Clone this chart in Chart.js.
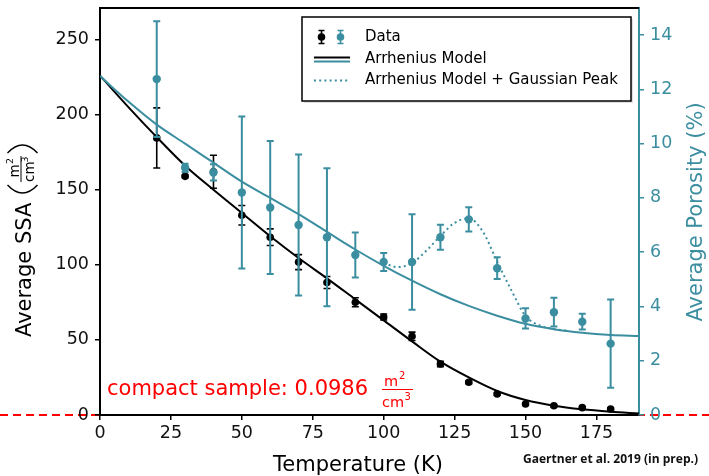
<!DOCTYPE html>
<html>
<head>
<meta charset="utf-8">
<script src="https://cdn.jsdelivr.net/npm/chart.js@4.4.1/dist/chart.umd.min.js"></script>
<style>
  body { margin: 0; background: #fff; }
  #wrap { width: 709px; height: 476px; position: relative; }
</style>
</head>
<body>
<div id="wrap"><canvas id="myChart"></canvas></div>
<script>
// measured samples
var temps = [20, 30, 40, 50, 60, 70, 80, 90, 100, 110, 120, 130, 140, 150, 160, 170, 180];
var ssa = [184.5, 158.9, 162, 133, 118.4, 101.8, 88.2, 75.1, 65.3, 52.4, 34, 21.8, 14, 7.3, 6.2, 4.9, 4.0];
var ssaErr = [20, 0.8, 11, 6.5, 5.5, 5, 4, 3, 2, 2.8, 1.8, 1, 0.8, 0.8, 0.8, 0.8, 0.8];
var porosity = [12.38, 9.11, 8.94, 8.2, 7.65, 7.0, 6.55, 5.9, 5.64, 5.64, 6.55, 7.21, 5.41, 3.56, 3.79, 3.44, 2.63];
var porErr = [2.13, 0.15, 0.3, 2.8, 2.45, 2.6, 2.54, 0.83, 0.33, 1.76, 0.46, 0.45, 0.4, 0.37, 0.53, 0.29, 1.63];

// model curves
var modelT = [0, 10, 20, 30, 40, 50, 60, 70, 80, 90, 100, 110, 120, 130, 140, 150, 160, 170, 180, 190];
var ssaModel = [226, 205, 185, 166, 150, 134.5, 119, 104.5, 91, 77, 63, 49, 35.5, 25, 16, 10, 6.2, 3.8, 2.2, 1];
var porModel = [12.49, 11.55, 10.7, 10.0, 9.3, 8.6, 8.0, 7.4, 6.75, 6.1, 5.5, 4.95, 4.45, 4.02, 3.66, 3.36, 3.16, 3.03, 2.95, 2.91];
var peakT = [100, 105, 110, 115, 120, 125, 130, 135, 140, 145, 150, 155, 160, 165];
var peakModel = [5.6, 5.45, 5.6, 6.05, 6.6, 7.08, 7.25, 6.75, 5.65, 4.6, 3.65, 3.3, 3.17, 3.1];

var xTickStep = 25, ssaTickStep = 50, porTickStep = 2;
var xMax = 190, ssaMax = 271, porMax = 15;

var TEAL = '#3b8ea0';
var FONT = "'DejaVu Sans', sans-serif";

function pts(xs, ys) {
  return xs.map(function (x, i) { return { x: x, y: ys[i] }; });
}

function drawErr(chart, axisId, xs, ys, errs, color, lw, cap) {
  var ctx = chart.ctx, sx = chart.scales.x, sy = chart.scales[axisId];
  ctx.save();
  ctx.strokeStyle = color;
  ctx.lineWidth = lw;
  for (var i = 0; i < xs.length; i++) {
    var px = sx.getPixelForValue(xs[i]);
    var top = sy.getPixelForValue(ys[i] + errs[i]);
    var bot = sy.getPixelForValue(ys[i] - errs[i]);
    ctx.beginPath();
    ctx.moveTo(px, top); ctx.lineTo(px, bot);
    ctx.moveTo(px - cap, top); ctx.lineTo(px + cap, top);
    ctx.moveTo(px - cap, bot); ctx.lineTo(px + cap, bot);
    ctx.stroke();
  }
  ctx.restore();
}

function fitY(w) {
  return function (s) { s.width = w; s.paddingTop = 0; s.paddingBottom = 0; };
}

var extras = {
  id: 'extras',
  beforeDraw: function (chart) {
    var ctx = chart.ctx;
    ctx.save();
    ctx.fillStyle = '#fff';
    ctx.fillRect(0, 0, chart.width, chart.height);
    // red dashed zero line across the whole figure
    var y0 = chart.scales.y.getPixelForValue(0);
    ctx.strokeStyle = 'red';
    ctx.lineWidth = 2;
    ctx.setLineDash([8, 5]);
    ctx.beginPath();
    ctx.moveTo(0, y0); ctx.lineTo(chart.width, y0);
    ctx.stroke();
    ctx.restore();
  },
  afterDatasetDraw: function (chart, args) {
    if (args.index === 3) drawErr(chart, 'y', temps, ssa, ssaErr, '#000', 1.6, 3.5);
    if (args.index === 0) drawErr(chart, 'y2', temps, porosity, porErr, TEAL, 2, 3.5);
  },
  afterDraw: function (chart) {
    var ctx = chart.ctx, a = chart.chartArea;
    ctx.save();
    // top spine
    ctx.strokeStyle = '#000';
    ctx.lineWidth = 2;
    ctx.beginPath();
    ctx.moveTo(a.left - 1, a.top); ctx.lineTo(a.right, a.top);
    ctx.stroke();

    // legend
    var lx = 302, ly = 17, lw = 329, lh = 84;
    ctx.fillStyle = 'rgba(0,0,0,0.12)';
    ctx.fillRect(lx + 2, ly + 2, lw, lh);
    ctx.fillStyle = '#fff';
    ctx.fillRect(lx, ly, lw, lh);
    ctx.strokeStyle = '#000';
    ctx.lineWidth = 1.5;
    ctx.strokeRect(lx, ly, lw, lh);

    function legErr(x, y, c) {
      ctx.strokeStyle = c; ctx.fillStyle = c; ctx.lineWidth = 1.6;
      ctx.beginPath();
      ctx.moveTo(x, y - 6.5); ctx.lineTo(x, y + 6.5);
      ctx.moveTo(x - 3, y - 6.5); ctx.lineTo(x + 3, y - 6.5);
      ctx.moveTo(x - 3, y + 6.5); ctx.lineTo(x + 3, y + 6.5);
      ctx.stroke();
      ctx.beginPath(); ctx.arc(x, y, 3.8, 0, Math.PI * 2); ctx.fill();
    }
    legErr(321.5, 37, '#000');
    legErr(340.5, 37, TEAL);
    ctx.lineWidth = 2;
    ctx.strokeStyle = '#000';
    ctx.beginPath(); ctx.moveTo(314, 57.5); ctx.lineTo(350, 57.5); ctx.stroke();
    ctx.strokeStyle = TEAL;
    ctx.beginPath(); ctx.moveTo(314, 61.5); ctx.lineTo(350, 61.5); ctx.stroke();
    ctx.setLineDash([2, 3.2]);
    ctx.beginPath(); ctx.moveTo(314, 80.5); ctx.lineTo(350, 80.5); ctx.stroke();
    ctx.setLineDash([]);

    ctx.fillStyle = '#000';
    ctx.font = '15px ' + FONT;
    ctx.textBaseline = 'middle';
    ctx.textAlign = 'left';
    ctx.fillText('Data', 365, 37);
    ctx.fillText('Arrhenius Model', 365, 59);
    ctx.fillText('Arrhenius Model + Gaussian Peak', 365, 80);

    // x title
    ctx.textBaseline = 'alphabetic';
    ctx.textAlign = 'center';
    ctx.font = '21px ' + FONT;
    ctx.fillText('Temperature (K)', 358, 471);

    // right y title
    ctx.save();
    ctx.translate(702, 212);
    ctx.rotate(-Math.PI / 2);
    ctx.fillStyle = TEAL;
    ctx.fillText('Average Porosity (%)', 0, 0);
    ctx.restore();

    // left y title with fraction in parentheses
    ctx.save();
    ctx.translate(30.5, 337);
    ctx.rotate(-Math.PI / 2);
    ctx.textAlign = 'left';
    ctx.fillStyle = '#000';
    ctx.font = '21px ' + FONT;
    ctx.fillText('Average SSA', 0, 0);
    ctx.strokeStyle = '#000';
    ctx.lineWidth = 1.4;
    ctx.beginPath();
    ctx.moveTo(152, -23); ctx.quadraticCurveTo(136, -8, 152, 7);
    ctx.moveTo(184, -23); ctx.quadraticCurveTo(200, -8, 184, 7);
    ctx.stroke();
    ctx.lineWidth = 1;
    ctx.beginPath(); ctx.moveTo(155, -9.5); ctx.lineTo(181, -9.5); ctx.stroke();
    ctx.font = '13.5px ' + FONT;
    ctx.fillText('m', 159.5, -12);
    ctx.fillText('cm', 155, 3);
    ctx.font = '9.5px ' + FONT;
    ctx.fillText('2', 173, -17.5);
    ctx.fillText('3', 174.5, -3);
    ctx.restore();

    // red annotation
    ctx.fillStyle = 'red';
    ctx.textAlign = 'left';
    ctx.font = '21px ' + FONT;
    ctx.fillText('compact sample: 0.0986', 107, 394.5);
    ctx.strokeStyle = 'red';
    ctx.lineWidth = 1;
    ctx.beginPath(); ctx.moveTo(382, 389.5); ctx.lineTo(413, 389.5); ctx.stroke();
    ctx.font = '14.5px ' + FONT;
    ctx.fillText('m', 384, 385.5);
    ctx.fillText('cm', 382, 406.5);
    ctx.font = '10px ' + FONT;
    ctx.fillText('2', 399, 379);
    ctx.fillText('3', 404.5, 400);

    // credit
    ctx.fillStyle = '#111';
    ctx.font = "bold 12px 'Open Sans', sans-serif";
    var txt = 'Gaertner et al. 2019 (in prep.)';
    var w = ctx.measureText(txt).width;
    ctx.save();
    ctx.translate(523, 463);
    ctx.scale(175 / w, 1);
    ctx.fillText(txt, 0, 0);
    ctx.restore();

    ctx.restore();
  }
};

var ctx = document.getElementById('myChart').getContext('2d');
var myChart = new Chart(ctx, {
  type: 'scatter',
  data: {
    datasets: [
      {
        label: 'Porosity data', data: pts(temps, porosity), yAxisID: 'y2',
        backgroundColor: TEAL, borderWidth: 0, pointRadius: 4.2, pointHoverRadius: 4.2
      },
      {
        label: 'Arrhenius Model + Gaussian Peak', data: pts(peakT, peakModel), yAxisID: 'y2',
        showLine: true, borderColor: TEAL, borderWidth: 2, borderDash: [2, 3.2],
        pointRadius: 0, cubicInterpolationMode: 'monotone'
      },
      {
        label: 'Arrhenius Model (porosity)', data: pts(modelT, porModel), yAxisID: 'y2',
        showLine: true, borderColor: TEAL, borderWidth: 2,
        pointRadius: 0, cubicInterpolationMode: 'monotone'
      },
      {
        label: 'SSA data', data: pts(temps, ssa), yAxisID: 'y',
        backgroundColor: '#000', borderWidth: 0, pointRadius: 3.8, pointHoverRadius: 3.8
      },
      {
        label: 'Arrhenius Model (SSA)', data: pts(modelT, ssaModel), yAxisID: 'y',
        showLine: true, borderColor: '#000', borderWidth: 2,
        pointRadius: 0, cubicInterpolationMode: 'monotone'
      }
    ]
  },
  options: {
    responsive: true,
    maintainAspectRatio: false,
    animation: false,
    layout: { padding: { top: 8, left: 0, right: 0, bottom: 0 } },
    plugins: { legend: { display: false }, tooltip: { enabled: false } },
    scales: {
      x: {
        type: 'linear', min: 0, max: xMax,
        afterFit: function (s) { s.height = 61; s.paddingLeft = 0; s.paddingRight = 0; },
        border: { color: '#000', width: 2 },
        grid: { drawOnChartArea: false, drawTicks: true, tickLength: 5, color: '#000', lineWidth: 1.5 },
        ticks: { stepSize: xTickStep, includeBounds: false, color: '#111', padding: 3,
                 font: { family: FONT, size: 17.5 }, maxRotation: 0 }
      },
      y: {
        type: 'linear', position: 'left', min: 0, max: ssaMax,
        afterFit: fitY(100),
        border: { color: '#000', width: 2 },
        grid: { drawOnChartArea: false, drawTicks: true, tickLength: 5, color: '#000', lineWidth: 1.5 },
        ticks: { stepSize: ssaTickStep, includeBounds: false, color: '#111', padding: 6,
                 font: { family: FONT, size: 17.5 } }
      },
      y2: {
        type: 'linear', position: 'right', min: 0, max: porMax,
        afterFit: fitY(70),
        border: { color: TEAL, width: 2 },
        grid: { drawOnChartArea: false, drawTicks: true, tickLength: 5, color: TEAL, lineWidth: 1.5 },
        ticks: { stepSize: porTickStep, includeBounds: false, color: TEAL, padding: 6,
                 font: { family: FONT, size: 17.5 } }
      }
    }
  },
  plugins: [extras]
});
</script>
</body>
</html>
